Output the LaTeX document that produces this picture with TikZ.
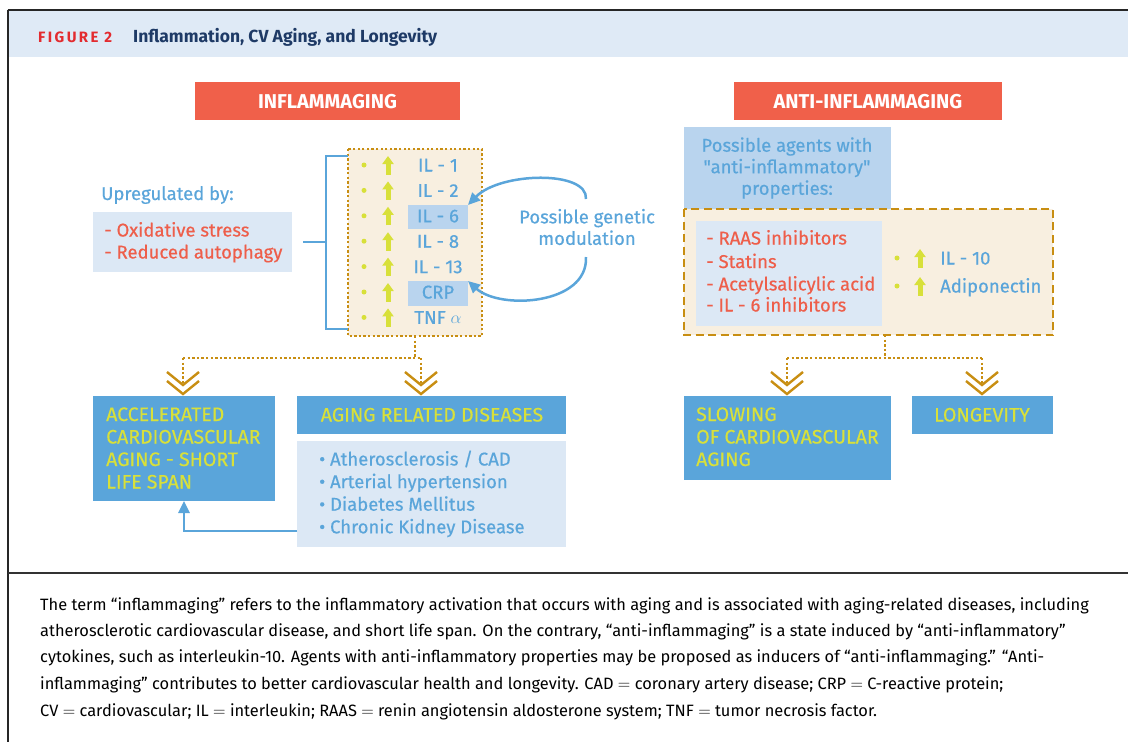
\documentclass[tikz,border=0pt]{standalone}
\usepackage{fontspec}
\setmainfont{Fira Sans}
\usetikzlibrary{arrows.meta,calc}

\definecolor{medblue}{HTML}{5AA5DA}
\definecolor{txtblue}{HTML}{5AA5DA}
\definecolor{paleblue}{HTML}{DCE8F5}
\definecolor{hiblue}{HTML}{B9D4EE}
\definecolor{salmon}{HTML}{F0604A}
\definecolor{redtxt}{HTML}{EE5E4A}
\definecolor{gold}{HTML}{C88E12}
\definecolor{cream}{HTML}{F8EFE0}
\definecolor{lime}{HTML}{D8E03A}
\definecolor{navy}{HTML}{1E3A66}
\definecolor{figred}{HTML}{E32B2F}
\definecolor{headbg}{HTML}{DFEAF6}

\newcommand\dfont{\fontsize{18.5}{22}\selectfont\addfontfeatures{FakeBold=0.5}}
\newcommand\ufont{\fontsize{19.5}{22}\selectfont\addfontfeatures{FakeBold=0.5}}
\newcommand\capfont{\fontsize{16.4}{19}\selectfont}

% two stacked chevrons pointing down, tip of the lower one at #1
\newcommand\chevs[1]{%
  \draw[chevline] ($(#1)+(-16,-22)$) -- ($(#1)+(0,-9)$) -- ($(#1)+(16,-22)$);
  \draw[chevline] ($(#1)+(-16,-13)$) -- (#1) -- ($(#1)+(16,-13)$);
}

\tikzset{
  box/.style={anchor=north west, inner sep=0, outer sep=0},
  redhead/.style={box, fill=salmon},
  headtxt/.style={inner sep=0, anchor=base, text=white, font=\fontsize{20}{22}\selectfont\bfseries},
  bluebox/.style={box, fill=medblue},
  palebox/.style={box, fill=paleblue},
  hibox/.style={box, fill=hiblue},
  txt/.style={inner sep=0, anchor=base west, font=\dfont},
  ctxt/.style={inner sep=0, anchor=base, font=\dfont},
  bluetxt/.style={txt, text=txtblue},
  redlist/.style={txt, text=redtxt},
  limetxt/.style={inner sep=0, anchor=base west, font=\ufont, text=lime},
  limectxt/.style={inner sep=0, anchor=base, font=\ufont, text=lime},
  goldot/.style={gold, line width=2.3pt, dash pattern=on 2.3pt off 2.3pt},
  chevline/.style={gold, line width=2.4pt, line cap=butt, line join=miter},
  bluel/.style={medblue, line width=2.5pt},
  bluearr/.style={medblue, line width=2.5pt, -{Triangle[length=12pt,width=11pt]}},
  uparr/.style={lime, line width=5pt, -{Triangle[length=8pt,width=11pt]}},
  dot/.style={circle, fill=lime, inner sep=0, minimum size=5pt},
  captxt/.style={inner sep=0, anchor=base west, font=\capfont, text=black},
}

\begin{document}
\begin{tikzpicture}[x=1pt, y=-1pt]
\useasboundingbox (0,0) rectangle (1128,742);

% frame and title band
\fill[headbg] (8,11) rectangle (1128,57);
\draw[line width=2pt, black!85] (7.5,10) -- (1128,10);
\draw[line width=2pt, black!85] (7.5,9.5) -- (7.5,742);
\draw[line width=1.5pt, black!80] (8,573) -- (1128,573);
\node[txt, text=figred, font=\fontsize{15}{16}\selectfont\bfseries\addfontfeatures{LetterSpace=16}] (fig) at (38,42) {FIGURE 2};
\node[txt, text=navy, font=\fontsize{17.5}{20}\selectfont\bfseries] (title) at (133,42) {Inflammation, CV Aging, and Longevity};

% section headings
\node[redhead, minimum width=265, minimum height=38] (inf) at (195,82) {};
\node[headtxt] at ($(inf.center)+(0,7)$) {INFLAMMAGING};
\node[redhead, minimum width=268, minimum height=38] (anti) at (734,82) {};
\node[headtxt] at ($(anti.center)+(0,7)$) {ANTI-INFLAMMAGING};

% ---------- inflammaging side ----------
\node[box, fill=cream, minimum width=134, minimum height=187] (cyto) at (348,149) {};
\draw[goldot] (cyto.north west) rectangle (cyto.south east);
\node[hibox, minimum width=60, minimum height=24] (il6) at (408,205) {};
\node[hibox, minimum width=60, minimum height=25] (crp) at (408,281) {};

\foreach \lab [count=\i] in {IL - 1, IL - 2, IL - 6, IL - 8, IL - 13, CRP, TNF $\alpha$} {
  \pgfmathsetmacro\yy{165+25.4*(\i-1)}
  \node[dot] (d\i) at (364,\yy) {};
  \coordinate (ab\i) at (388,\yy+9.5);
  \coordinate (at\i) at (388,\yy-9);
  \draw[uparr] (ab\i) -- (at\i);
  \node[ctxt, text=txtblue] (c\i) at (438,\yy+6.5) {\lab};
}

\node[bluetxt] (upby) at (101,200) {Upregulated by:};
\node[palebox, minimum width=199, minimum height=60] (up) at (93,212) {};
\node[redlist] (ox) at (104,236.5) {- Oxidative stress};
\node[redlist] (ra) at (104,258.5) {- Reduced autophagy};

% bracket joining the upregulators to the cytokine list
\coordinate (brT) at (348,156);
\coordinate (brB) at (348,329);
\coordinate (brM) at (326,242);
\coordinate (upR) at (303,242);
\draw[bluel] (brT) -- (326,156) -- (326,329) -- (brB);
\draw[bluel] (upR) -- (brM);

% genetic modulation loop
\node[inner sep=0, font=\dfont, text=txtblue, align=center] (gen) at (587,227) {Possible genetic\\[-0.5pt]modulation};
\coordinate (genT) at (586,199);
\coordinate (genB) at (586,257);
\draw[bluearr] (genT) .. controls (588,170) and (500,172) .. (il6.north east);
\draw[bluearr] (genB) .. controls (588,305) and (500,310) .. (crp.north east);

% outcomes of inflammaging
\node[bluebox, minimum width=182, minimum height=105] (acc) at (93,396) {};
\node[limetxt] at (106,421) {ACCELERATED};
\node[limetxt] at (106,443.5) {CARDIOVASCULAR};
\node[limetxt] at (106,466) {AGING - SHORT};
\node[limetxt] at (106,488.5) {LIFE SPAN};

\node[bluebox, minimum width=269, minimum height=38] (ard) at (297,396) {};
\node[limectxt] at (432,421.5) {AGING RELATED DISEASES};

\node[palebox, minimum width=269, minimum height=106] (dis) at (297,441) {};
\foreach \t [count=\i] in {Atherosclerosis / CAD, Arterial hypertension, Diabetes Mellitus, Chronic Kidney Disease} {
  \pgfmathsetmacro\yy{459+22.6*(\i-1)+6.5}
  \node[bluetxt] at (319,\yy) {• \t};
}

\coordinate (disL) at (297,531);
\draw[bluearr] (disL) -| (acc.south);

% dotted branches with chevrons
\coordinate (lj) at (415,358);
\coordinate (lchev) at (183,394);
\coordinate (rchev) at (421,394);
\draw[goldot] (cyto.south) -- (lj);
\draw[goldot] (183,358) -- (422,358);
\draw[goldot] (183,358) -- ($(lchev)+(0,-10)$);
\draw[goldot] (421,358) -- ($(rchev)+(0,-10)$);
\chevs{lchev}
\chevs{rchev}

% ---------- anti-inflammaging side ----------
\node[hibox, minimum width=207, minimum height=82] (agents) at (684,127) {};
\node[inner sep=0, font=\dfont\addfontfeatures{Ligatures=TeXOff}, text=txtblue, align=center] (agtxt) at (787,168) {Possible agents with\\[-0.5pt]"anti-inflammatory"\\[-0.5pt]properties:};

\node[box, fill=cream, minimum width=369, minimum height=126] (anti box) at (684,209) {};
\draw[gold, line width=2.6pt, dash pattern=on 8pt off 4.5pt] (anti box.north west) rectangle (anti box.south east);
\node[palebox, minimum width=186, minimum height=105] (drugs) at (696,221) {};
\node[redlist] at (706,244.5) {- RAAS inhibitors};
\node[redlist] at (706,268) {- Statins};
\node[redlist] at (706,290.5) {- Acetylsalicylic acid};
\node[redlist] at (706,311.5) {- IL - 6 inhibitors};

\node[dot] (d10) at (897,258) {};
\coordinate (a10b) at (920,267.5);
\coordinate (a10t) at (920,249);
\draw[uparr] (a10b) -- (a10t);
\node[bluetxt] (il10) at (940,264.5) {IL - 10};
\node[dot] (dadi) at (897,286) {};
\coordinate (aadb) at (920,295.5);
\coordinate (aadt) at (920,277);
\draw[uparr] (aadb) -- (aadt);
\node[bluetxt] (adi) at (940,292.5) {Adiponectin};

% outcomes of anti-inflammaging
\node[bluebox, minimum width=207, minimum height=84] (slow) at (684,396) {};
\node[limetxt] at (696,421) {SLOWING};
\node[limetxt] at (696,443.5) {OF CARDIOVASCULAR};
\node[limetxt] at (696,466) {AGING};

\node[bluebox, minimum width=141, minimum height=38] (lon) at (912,396) {};
\node[limectxt] at (982,421.5) {LONGEVITY};

\coordinate (rj) at (885,358);
\coordinate (schev) at (787,394);
\coordinate (lochev) at (982,394);
\draw[goldot] (885,335) -- (rj);
\draw[goldot] (787,358) -- (982,358);
\draw[goldot] (787,358) -- ($(schev)+(0,-10)$);
\draw[goldot] (982,358) -- ($(lochev)+(0,-10)$);
\chevs{schev}
\chevs{lochev}

% ---------- caption ----------
\node[captxt] at (40,610) {The term “inflammaging” refers to the inflammatory activation that occurs with aging and is associated with aging-related diseases, including};
\node[captxt] at (40,636) {atherosclerotic cardiovascular disease, and short life span. On the contrary, “anti-inflammaging” is a state induced by “anti-inflammatory”};
\node[captxt] at (40,662) {cytokines, such as interleukin-10. Agents with anti-inflammatory properties may be proposed as inducers of “anti-inflammaging.” “Anti-};
\node[captxt] at (40,689) {inflammaging” contributes to better cardiovascular health and longevity. CAD $=$ coronary artery disease; CRP $=$ C-reactive protein;};
\node[captxt] at (40,716) {CV $=$ cardiovascular; IL $=$ interleukin; RAAS $=$ renin angiotensin aldosterone system; TNF $=$ tumor necrosis factor.};
\end{tikzpicture}
\end{document}
